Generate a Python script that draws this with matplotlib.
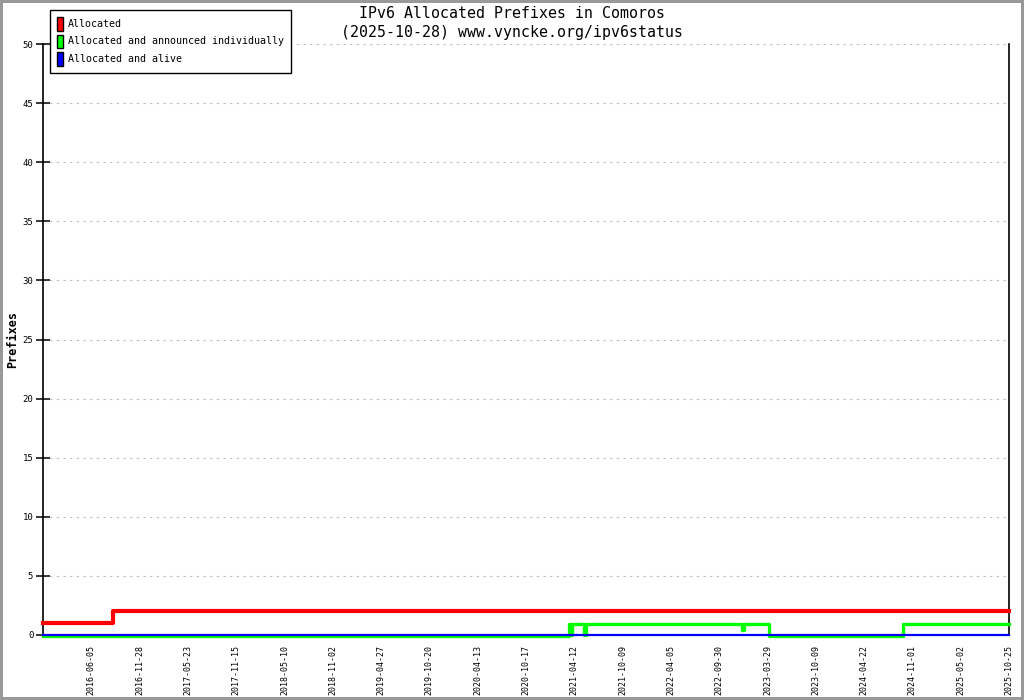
import matplotlib
matplotlib.use("Agg")
import matplotlib.pyplot as plt
import matplotlib.transforms as mtransforms
from matplotlib.patches import Patch

# Data (x in label-slot units: slot 0 = left edge, slot k = k-th date label)
date_labels = ['2016-06-05', '2016-11-28', '2017-05-23', '2017-11-15', '2018-05-10',
               '2018-11-02', '2019-04-27', '2019-10-20', '2020-04-13', '2020-10-17',
               '2021-04-12', '2021-10-09', '2022-04-05', '2022-09-30', '2023-03-29',
               '2023-10-09', '2024-04-22', '2024-11-01', '2025-05-02', '2025-10-25']

alloc_x = [0, 1.45, 20]
alloc_y = [1, 2, 2]

announced_x = [0, 10.88, 10.93, 10.96, 11.20, 11.24, 14.47, 14.51, 15.03, 17.80, 20]
announced_y = [0, 1, 0.1, 1, 0.1, 1, 0.5, 1, 0, 1, 1]

alive_x = [0, 20]
alive_y = [0, 0]

fig = plt.figure(figsize=(10.24, 7.0), dpi=100)
fig.patch.set_edgecolor('#999999')
fig.patch.set_linewidth(3)
ax = fig.add_axes([43 / 1024, 1 - 635 / 700, 966 / 1024, 591 / 700])

mono = 'DejaVu Sans Mono'

# green drawn a bit lower, like the original renderer
shift = mtransforms.ScaledTranslation(0, -1.0 / 100, fig.dpi_scale_trans)
ax.step(announced_x, announced_y, where='post', color='#00ff00', lw=2.4, zorder=3,
        transform=ax.transData + shift, clip_on=False)
ax.step(alloc_x, alloc_y, where='post', color='#ff0000', lw=3, zorder=4, clip_on=False)
ax.step(alive_x, alive_y, where='post', color='#0000ff', lw=1.6, zorder=5, clip_on=False)

ax.set_xlim(0, 20)
ax.set_ylim(0, 50)

# x: labels on every slot, ticks + grid on every second slot
ax.set_xticks(range(1, 21))
ax.set_xticklabels(date_labels, rotation=90, fontsize=6, family=mono, va='top', ha='center')
ax.tick_params(axis='x', which='major', length=0, pad=7)
ax.set_xticks(range(2, 21, 2), minor=True)
ax.tick_params(axis='x', which='minor', length=10, direction='inout', width=1.1)
ax.grid(True, axis='x', which='minor', color='#bbbbbb', linestyle=(0, (2, 4)), lw=0.8)
ax.grid(False, axis='x', which='major')

ax.set_yticks(range(0, 51, 5))
ax.tick_params(axis='y', length=10, direction='inout', width=1.1, labelsize=6.5, pad=2)
for lab in ax.get_yticklabels():
    lab.set_family(mono)
ax.grid(True, axis='y', color='#bbbbbb', linestyle=(0, (2, 4)), lw=0.8)

ax.spines['top'].set_visible(False)
for s in ('left', 'bottom', 'right'):
    ax.spines[s].set_linewidth(1.2)

ax.set_ylabel('Prefixes', family=mono, fontsize=8.5, fontweight='bold')
ax.yaxis.set_label_coords(-24 / 966, 0.5)

fig.text(0.5, 1 - 13 / 700, 'IPv6 Allocated Prefixes in Comoros', ha='center', va='center',
         family=mono, fontsize=10.7)
fig.text(0.5, 1 - 32 / 700, '(2025-10-28) www.vyncke.org/ipv6status', ha='center', va='center',
         family=mono, fontsize=10.7)

handles = [Patch(facecolor='#ff0000', edgecolor='black'),
           Patch(facecolor='#00ff00', edgecolor='black'),
           Patch(facecolor='#0000ff', edgecolor='black')]
leg = fig.legend(handles, ['Allocated', 'Allocated and announced individually', 'Allocated and alive'],
                 loc='upper left', bbox_to_anchor=(50 / 1024, 1 - 10 / 700), borderaxespad=0,
                 prop={'family': mono, 'size': 7.2}, fancybox=False, framealpha=1,
                 edgecolor='black', handlelength=0.6, handleheight=1.7, handletextpad=0.5,
                 labelspacing=0.4, borderpad=0.7)
leg.get_frame().set_linewidth(1)

fig.savefig('out.png', dpi=100)
